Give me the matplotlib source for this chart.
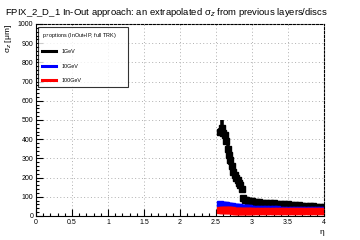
import matplotlib
matplotlib.use('Agg')
import matplotlib.pyplot as plt
from matplotlib.lines import Line2D
from matplotlib.ticker import MultipleLocator

plt.rcParams['font.family'] = ['Liberation Sans', 'DejaVu Sans']

# eta points: fine steps across the spike, coarser along the tail
eta = [2.56, 2.58, 2.60, 2.62, 2.64, 2.66, 2.68, 2.70, 2.72, 2.74, 2.76,
       2.78, 2.80, 2.82, 2.84, 2.86, 2.88, 2.90, 2.92, 2.94, 2.96, 2.98,
       3.00, 3.05, 3.10, 3.15, 3.20, 3.25, 3.30, 3.35, 3.40, 3.45, 3.50,
       3.55, 3.60, 3.65, 3.70, 3.75, 3.80, 3.85, 3.90, 3.95, 4.00]
eta_halfwidth = [0.01] * 22 + [0.025] * 21

# 1 GeV
sig_1gev = [440, 460, 430, 420, 390, 350, 320, 290, 260, 230, 215,
            200, 185, 170, 160, 140, 95, 85, 82, 80, 78, 76,
            76, 74, 72, 70, 68, 70, 66, 64, 62, 60, 60,
            58, 56, 55, 54, 52, 51, 50, 49, 48, 47]
err_1gev = [20, 40, 20, 20, 20, 25, 25, 25, 20, 20, 20,
            20, 20, 15, 15, 12, 12, 14, 14, 14, 14, 14,
            14, 13, 13, 12, 12, 12, 11, 11, 11, 10, 10,
            10, 10, 9, 9, 9, 9, 8, 8, 8, 8]

# 10 GeV
sig_10gev = [60, 58, 57, 56, 55, 54, 52, 51, 50, 49, 48,
             47, 46, 45, 44, 43, 42, 41, 41, 40, 40, 39,
             39, 38, 37, 36, 35, 35, 34, 34, 33, 33, 32,
             32, 32, 31, 31, 31, 30, 30, 30, 30, 30]
err_10gev = [7] * 43

# 100 GeV
sig_100gev = [32, 31, 31, 30, 30, 30, 29, 29, 29, 28, 28,
              28, 27, 27, 27, 26, 26, 26, 26, 26, 25, 25,
              25, 25, 25, 25, 25, 24, 24, 24, 24, 24, 24,
              24, 24, 24, 24, 24, 24, 24, 24, 24, 24]
err_100gev = [11] * 43

x_ticks = [0, 0.5, 1, 1.5, 2, 2.5, 3, 3.5, 4]
x_ticklabels = ['0', '0.5', '1', '1.5', '2', '2.5', '3', '3.5', '4']

series = [('1GeV', sig_1gev, err_1gev, 'black'),
          ('10GeV', sig_10gev, err_10gev, 'blue'),
          ('100GeV', sig_100gev, err_100gev, 'red')]

fig = plt.figure(figsize=(3.6, 2.4), dpi=100)
ax = fig.add_axes([0.1, 0.1, 0.8, 0.8])

for label, y, yerr, col in series:
    ax.errorbar(eta, y, xerr=eta_halfwidth, yerr=yerr, fmt='s', color=col,
                ms=4, elinewidth=2.6, capsize=0, mec=col)

ax.set_xlim(0, 4)
ax.set_ylim(0, 1000)
ax.set_xticks(x_ticks)
ax.set_xticklabels(x_ticklabels)
ax.xaxis.set_minor_locator(MultipleLocator(0.1))
ax.yaxis.set_major_locator(MultipleLocator(100))
ax.yaxis.set_minor_locator(MultipleLocator(20))
ax.tick_params(which='both', direction='in', labelsize=5, width=0.8, pad=2)
ax.tick_params(which='major', length=5)
ax.tick_params(which='minor', length=2.5)
ax.grid(True, which='major', linestyle=(0, (1, 2.5)), color='#b0b0b0', linewidth=0.7)
for side in ['top', 'right']:
    ax.spines[side].set_linestyle((0, (2, 1.5)))
    ax.spines[side].set_linewidth(0.8)
for side in ['left', 'bottom']:
    ax.spines[side].set_linewidth(0.8)

ax.set_xlabel('η', fontsize=6, loc='right', labelpad=2)
ax.set_ylabel('σ$_z$ [μm]', fontsize=6, loc='top', labelpad=3)
fig.text(0.013, 0.975, 'FPIX_2_D_1 In-Out approach: an extrapolated σ$_z$ from previous layers/discs',
         fontsize=6.8, va='top', ha='left')

handles = [Line2D([], [], color=c, lw=2.2) for _, _, _, c in series]
leg = ax.legend(handles, [s[0] for s in series], loc='upper left',
                bbox_to_anchor=(0.007, 0.984, 0.313, 0.0), mode='expand',
                title='p$_T$ options (InOut+IP, full TRK):', title_fontsize=3.9,
                fontsize=3.9, frameon=True, fancybox=False, edgecolor='black',
                handlelength=2.6, handletextpad=1.0, labelspacing=1.75,
                borderaxespad=0, borderpad=0.7, shadow=False)
leg._legend_box.align = 'left'
leg.get_frame().set_linewidth(0.8)

fig.savefig('out.png', dpi=100)
